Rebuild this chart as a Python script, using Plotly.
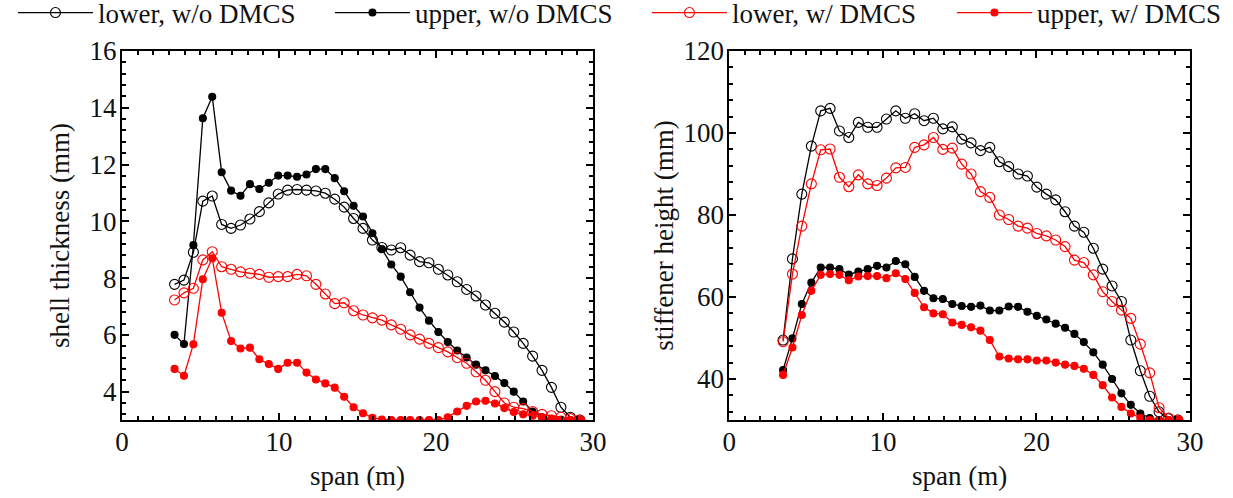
import plotly.graph_objects as go

# ---------------- data ----------------
span_left = [3.35, 3.95, 4.55, 5.15, 5.75, 6.35, 6.95, 7.55, 8.15, 8.75, 9.35, 9.95,
             10.55, 11.15, 11.75, 12.35, 12.95, 13.55, 14.15, 14.75, 15.35, 15.95,
             16.55, 17.15, 17.75, 18.35, 18.95, 19.55, 20.15, 20.75, 21.35, 21.95,
             22.55, 23.15, 23.75, 24.35, 24.95, 25.55, 26.15, 26.75, 27.35, 27.95,
             28.55, 29.15]

shell_lower_wo = [7.78, 7.93, 8.91, 10.71, 10.89, 9.89, 9.75, 9.87, 10.08, 10.34, 10.65, 10.96,
                  11.1, 11.12, 11.1, 11.07, 10.99, 10.78, 10.5, 10.1, 9.75, 9.34,
                  9.08, 8.99, 9.07, 8.81, 8.58, 8.54, 8.31, 8.11, 7.87, 7.6,
                  7.37, 7.05, 6.76, 6.45, 6.1, 5.7, 5.25, 4.75, 4.15, 3.45,
                  3.1, 3.0]
shell_upper_wo = [6.0, 5.68, 9.16, 13.63, 14.39, 11.73, 11.08, 10.9, 11.31, 11.14, 11.36, 11.61,
                  11.61, 11.57, 11.65, 11.84, 11.84, 11.52, 11.06, 10.55, 10.17, 9.58,
                  9.02, 8.48, 8.05, 7.5, 6.96, 6.5, 6.1, 5.75, 5.45, 5.2,
                  4.95, 4.75, 4.55, 4.3, 4.0, 3.65, 3.3, 3.1, 3.0, 3.0,
                  3.0, 3.0]
shell_lower_w = [7.23, 7.48, 7.64, 8.64, 8.93, 8.4, 8.31, 8.22, 8.17, 8.13, 8.03, 8.05,
                 8.05, 8.13, 8.08, 7.78, 7.44, 7.1, 7.13, 6.85, 6.7, 6.6,
                 6.52, 6.35, 6.2, 6.0, 5.85, 5.7, 5.55, 5.4, 5.2, 5.0,
                 4.7, 4.4, 4.0, 3.6, 3.45, 3.4, 3.3, 3.2, 3.15, 3.1,
                 3.05, 3.0]
shell_upper_w = [4.8, 4.56, 5.67, 7.96, 8.7, 6.78, 5.78, 5.52, 5.55, 5.14, 4.97, 4.8,
                 5.02, 5.02, 4.67, 4.43, 4.29, 4.14, 3.82, 3.45, 3.24, 3.08,
                 3.02, 3.0, 3.0, 3.0, 3.0, 3.0, 3.0, 3.1, 3.3, 3.5,
                 3.65, 3.68, 3.58, 3.42, 3.28, 3.2, 3.15, 3.1, 3.05, 3.02,
                 3.0, 3.0]

span_right = [3.5, 4.11, 4.72, 5.34, 5.95, 6.56, 7.17, 7.78, 8.4, 9.01, 9.62, 10.23,
              10.84, 11.46, 12.07, 12.68, 13.29, 13.9, 14.52, 15.13, 15.74, 16.35,
              16.96, 17.58, 18.19, 18.8, 19.41, 20.02, 20.64, 21.25, 21.86, 22.47,
              23.08, 23.7, 24.31, 24.92, 25.53, 26.14, 26.76, 27.37, 27.98, 28.59,
              29.2]

stiff_lower_wo = [49.5, 69.3, 85.1, 96.8, 105.4, 106.0, 100.5, 98.9, 102.6, 101.4, 101.4, 103.4,
                  105.4, 103.6, 104.7, 103.0, 103.6, 101.0, 101.5, 98.5, 97.6, 95.7,
                  96.5, 93.0, 91.8, 90.0, 89.5, 86.8, 85.1, 83.7, 80.8, 77.3,
                  75.8, 71.9, 66.8, 62.7, 58.9, 49.5, 42.0, 35.8, 32.0, 30.3,
                  30.0]
stiff_upper_wo = [42.2, 49.9, 58.3, 63.5, 67.2, 67.2, 66.8, 65.5, 66.2, 66.8, 67.6, 67.2,
                  68.8, 68.0, 64.9, 61.5, 59.7, 59.5, 58.3, 57.8, 57.6, 57.9,
                  56.7, 56.7, 57.7, 57.6, 56.4, 55.4, 54.5, 53.5, 52.5, 51.0,
                  49.0, 46.5, 43.5, 40.0, 36.5, 33.7, 31.6, 30.5, 30.0, 30.0,
                  30.0]
stiff_lower_w = [49.1, 65.6, 77.3, 87.6, 95.9, 96.1, 89.2, 86.9, 89.8, 87.6, 87.2, 89.0,
                 91.5, 91.6, 96.5, 97.1, 98.9, 96.0, 96.3, 92.4, 90.0, 85.7,
                 84.3, 80.0, 78.9, 77.3, 76.8, 75.5, 74.9, 73.9, 72.3, 69.0,
                 68.4, 65.4, 61.3, 58.9, 56.8, 54.8, 48.5, 41.5, 33.0, 30.5,
                 30.0]
stiff_upper_w = [41.0, 47.7, 55.6, 61.5, 65.4, 65.6, 65.4, 64.1, 65.0, 65.1, 65.1, 64.6,
                 65.8, 64.4, 61.0, 57.5, 56.0, 55.8, 53.8, 53.2, 52.6, 51.8,
                 49.5, 45.5, 45.0, 44.8, 44.8, 44.5, 44.5, 44.0, 43.5, 43.2,
                 42.5, 41.0, 38.5, 35.5, 33.2, 31.6, 30.5, 30.0, 30.0, 30.0,
                 30.0]

series_names = ["lower, w/o DMCS", "upper, w/o DMCS", "lower, w/ DMCS", "upper, w/ DMCS"]

# ---------------- styling ----------------
FONT = "'Liberation Serif', 'Times New Roman', Times, serif"
styles = [
    dict(color="black", symbol="circle-open", size=10),
    dict(color="black", symbol="circle", size=7),
    dict(color="red", symbol="circle-open", size=10),
    dict(color="red", symbol="circle", size=7),
]
legend_widths = [227, 227, 215, 192]

left_data = [shell_lower_wo, shell_upper_wo, shell_lower_w, shell_upper_w]
right_data = [stiff_lower_wo, stiff_upper_wo, stiff_lower_w, stiff_upper_w]

fig = go.Figure()
for k, name in enumerate(series_names):
    st = styles[k]
    mk = dict(symbol=st["symbol"], size=st["size"], color=st["color"],
              line=dict(color=st["color"], width=1.1))
    fig.add_trace(go.Scatter(x=span_left, y=left_data[k], mode="lines+markers",
                             name=name, legendgroup=name, legendwidth=legend_widths[k],
                             line=dict(color=st["color"], width=1.3),
                             marker=mk, xaxis="x", yaxis="y"))
    fig.add_trace(go.Scatter(x=span_right, y=right_data[k], mode="lines+markers",
                             name=name, legendgroup=name, showlegend=False,
                             line=dict(color=st["color"], width=1.3),
                             marker=mk, xaxis="x2", yaxis="y2"))

TXT = "#111"
axis_common = dict(showline=True, linecolor="black", linewidth=2, mirror="ticks",
                   ticks="inside", ticklen=7, tickwidth=1.5, tickcolor="black",
                   showgrid=False, zeroline=False, automargin=False,
                   tickfont=dict(family=FONT, size=27, color=TXT))
title_font = dict(family=FONT, size=27, color=TXT)

fig.update_layout(
    template="none",
    width=1233, height=498,
    margin=dict(l=0, r=0, t=0, b=0, pad=0, autoexpand=False),
    paper_bgcolor="white", plot_bgcolor="white",
    font=dict(family=FONT, color=TXT, size=27),
    showlegend=True,
    legend=dict(orientation="h", x=0.0105, y=1 - 13 / 498, xanchor="left", yanchor="middle",
                font=dict(family=FONT, size=27, color=TXT),
                itemwidth=75, bgcolor="rgba(0,0,0,0)", borderwidth=0,
                entrywidthmode="pixels"),
    xaxis=dict(domain=[0.0989, 0.481], range=[0, 30], dtick=10, tick0=0,
               minor=dict(dtick=1, ticks="inside", ticklen=4, tickcolor="black"),
               ticklabelstandoff=-3,
               title=dict(text="span (m)", standoff=10, font=title_font),
               anchor="y", **axis_common),
    yaxis=dict(domain=[0.1566, 0.8976], range=[3, 16], dtick=2, tick0=0,
               minor=dict(dtick=0.4, tick0=0, ticks="inside", ticklen=4, tickcolor="black"),
               ticklabelstandoff=-2,
               title=dict(text="shell thickness (mm)", standoff=12, font=title_font),
               anchor="x", **axis_common),
    xaxis2=dict(domain=[0.5915, 0.9652], range=[0, 30], dtick=10, tick0=0,
                minor=dict(dtick=1, ticks="inside", ticklen=4, tickcolor="black"),
                ticklabelstandoff=-3,
                title=dict(text="span (m)", standoff=10, font=title_font),
                anchor="y2", **axis_common),
    yaxis2=dict(domain=[0.1566, 0.8976], range=[30, 120], dtick=20, tick0=0,
                minor=dict(dtick=4, tick0=0, ticks="inside", ticklen=4, tickcolor="black"),
                ticklabelstandoff=-2,
                title=dict(text="stiffener height (mm)", standoff=2, font=title_font),
                anchor="x2", **axis_common),
)

fig.write_html("out.html")
